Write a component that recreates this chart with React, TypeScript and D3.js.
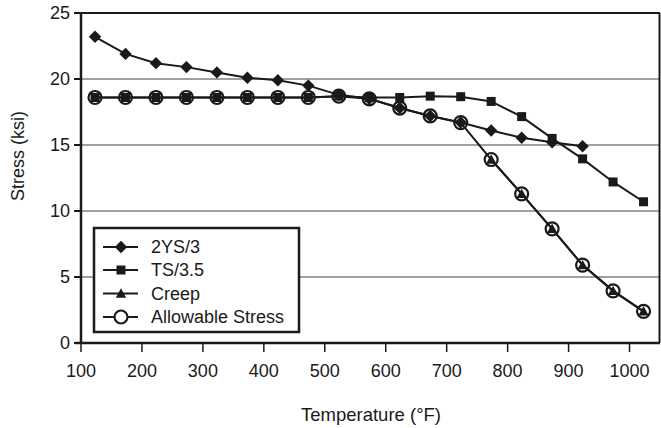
import React from "react";
import * as d3 from "d3";

const temps = [123, 173, 223, 273, 323, 373, 423, 473, 523, 573, 623, 673, 723, 773, 823, 873, 923, 973, 1023];
const ys23 = [23.2, 21.9, 21.2, 20.9, 20.5, 20.1, 19.9, 19.5, 18.8, 18.5, 17.8, 17.2, 16.7, 16.1, 15.55, 15.2, 14.9, null, null];
const ts35 = [18.6, 18.6, 18.6, 18.6, 18.6, 18.6, 18.6, 18.6, 18.7, 18.6, 18.6, 18.7, 18.66, 18.3, 17.15, 15.5, 13.95, 12.2, 10.7];
const creep = [null, null, null, null, null, null, null, null, null, null, null, null, null, 13.9, 11.3, 8.65, 5.9, 3.95, 2.4];
const allowable = [18.6, 18.6, 18.6, 18.6, 18.6, 18.6, 18.6, 18.6, 18.7, 18.5, 17.8, 17.2, 16.7, 13.9, 11.3, 8.65, 5.9, 3.95, 2.4];
const xTicks = [100, 200, 300, 400, 500, 600, 700, 800, 900, 1000];
const yTicks = [0, 5, 10, 15, 20, 25];
const legendLabels = ["2YS/3", "TS/3.5", "Creep", "Allowable Stress"];

const FONT = "Arial, 'Liberation Sans', sans-serif";
const INK = "#1a1a1a";

type Pt = { x: number; y: number };

function pts(vals: (number | null)[]): Pt[] {
  const out: Pt[] = [];
  vals.forEach((v, i) => {
    if (v !== null) out.push({ x: temps[i], y: v });
  });
  return out;
}

function Marker({ kind, cx, cy }: { kind: string; cx: number; cy: number }) {
  if (kind === "diamond") {
    const s = 6.2;
    return <path d={`M${cx},${cy - s}L${cx + s},${cy}L${cx},${cy + s}L${cx - s},${cy}Z`} fill={INK} />;
  }
  if (kind === "square") {
    const s = 4.5;
    return <rect x={cx - s} y={cy - s} width={2 * s} height={2 * s} fill={INK} />;
  }
  if (kind === "triangle") {
    const s = 5.2;
    return <path d={`M${cx},${cy - s}L${cx + s},${cy + s * 0.8}L${cx - s},${cy + s * 0.8}Z`} fill={INK} />;
  }
  return <circle cx={cx} cy={cy} r={6.5} fill="none" stroke={INK} strokeWidth={2.2} />;
}

export default function App() {
  const W = 661, H = 428;
  const x = d3.scaleLinear().domain([100, 1050]).range([81, 660]);
  const y = d3.scaleLinear().domain([0, 25]).range([343, 13]);
  const line = d3.line<Pt>().x(d => x(d.x)).y(d => y(d.y));

  const series = [
    { data: pts(ys23), kind: "diamond" },
    { data: pts(ts35), kind: "square" },
    { data: pts(creep), kind: "triangle" },
    { data: pts(allowable), kind: "circle" },
  ];

  const legendX = 94, legendY = 228, legendW = 205, legendH = 104;
  const rowY = [247, 270, 293.5, 317];
  const kinds = ["diamond", "square", "triangle", "circle"];

  return (
    <svg width={W} height={H} style={{ position: "absolute", left: 0, top: 0, background: "#fff" }} fontFamily={FONT}>
      <rect x={0} y={0} width={W} height={H} fill="#fff" />
      {yTicks.filter(t => t > 0 && t < 25).map(t => (
        <line key={t} x1={x(100)} x2={660} y1={y(t)} y2={y(t)} stroke="#808080" strokeWidth={1.5} />
      ))}
      <line x1={x(100)} x2={660} y1={y(25)} y2={y(25)} stroke={INK} strokeWidth={2} />
      <line x1={659.5} x2={659.5} y1={y(25)} y2={y(0)} stroke={INK} strokeWidth={2} />
      {series.map((s, i) => (
        <path key={i} d={line(s.data) || ""} fill="none" stroke={INK} strokeWidth={2} />
      ))}
      {series.map((s, i) => (
        <g key={i}>
          {s.data.map((d, j) => (
            <Marker key={j} kind={s.kind} cx={x(d.x)} cy={y(d.y)} />
          ))}
        </g>
      ))}
      <line x1={x(100)} x2={x(100)} y1={y(25)} y2={y(0)} stroke={INK} strokeWidth={2.5} />
      <line x1={x(100) - 6} x2={660} y1={y(0)} y2={y(0)} stroke={INK} strokeWidth={2.5} />
      {yTicks.map(t => (
        <g key={t}>
          <line x1={x(100) - 7} x2={x(100)} y1={y(t)} y2={y(t)} stroke={INK} strokeWidth={2} />
          <text x={x(100) - 11} y={y(t)} dy="0.35em" textAnchor="end" fontSize={18} fill={INK}>{t}</text>
        </g>
      ))}
      {xTicks.map(t => (
        <g key={t}>
          <line x1={x(t)} x2={x(t)} y1={y(0)} y2={y(0) + 9} stroke={INK} strokeWidth={1.5} />
          <text x={x(t)} y={377} textAnchor="middle" fontSize={18} fill={INK}>{t}</text>
        </g>
      ))}
      <text x={371} y={421} textAnchor="middle" fontSize={18.5} fill={INK}>Temperature (°F)</text>
      <text transform={`translate(24,156) rotate(-90)`} textAnchor="middle" fontSize={18} fill={INK}>Stress (ksi)</text>
      <rect x={legendX} y={legendY} width={legendW} height={legendH} fill="#fff" stroke={INK} strokeWidth={2.5} />
      {legendLabels.map((lab, i) => (
        <g key={lab}>
          <line x1={103} x2={138} y1={rowY[i]} y2={rowY[i]} stroke={INK} strokeWidth={2} />
          {kinds[i] === "circle" ? (
            <circle cx={121} cy={rowY[i]} r={6.5} fill="#fff" stroke={INK} strokeWidth={2.2} />
          ) : (
            <Marker kind={kinds[i]} cx={121} cy={rowY[i]} />
          )}
          <text x={151} y={rowY[i]} dy="0.35em" fontSize={18} fill={INK}>{lab}</text>
        </g>
      ))}
    </svg>
  );
}
